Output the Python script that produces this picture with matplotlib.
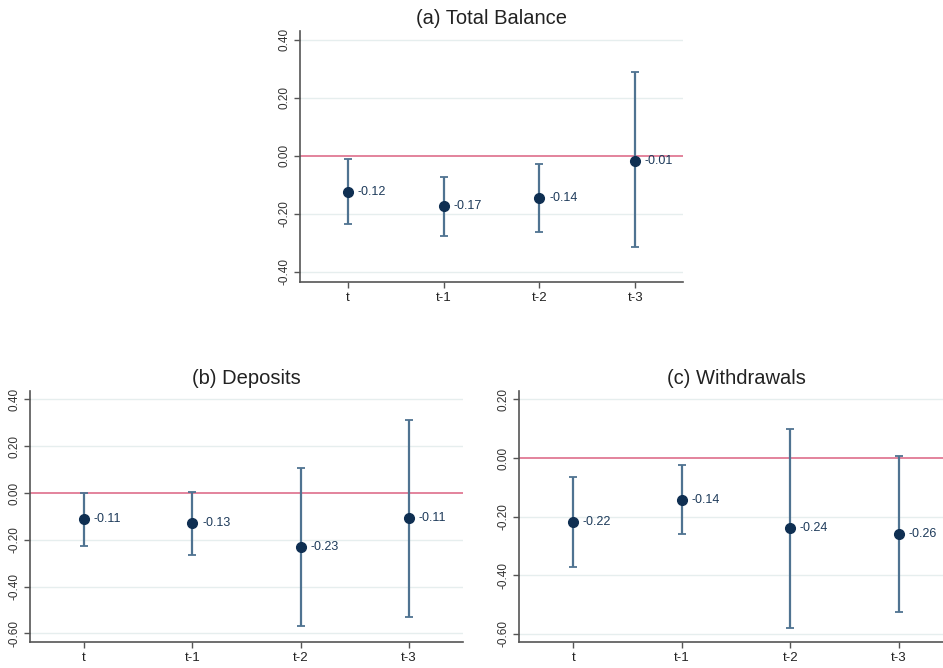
import matplotlib
matplotlib.use("Agg")
import matplotlib.pyplot as plt
import numpy as np

plt.rcParams['font.family'] = ['Liberation Sans', 'DejaVu Sans']

lags = ["t", "t-1", "t-2", "t-3"]

# (a) Total Balance
a_est = [-0.12, -0.17, -0.14, -0.01]
a_plot = [-0.124, -0.172, -0.145, -0.017]
a_lo = [-0.234, -0.275, -0.263, -0.315]
a_hi = [-0.010, -0.072, -0.027, 0.287]

# (b) Deposits
b_est = [-0.11, -0.13, -0.23, -0.11]
b_plot = [-0.111, -0.130, -0.232, -0.108]
b_lo = [-0.225, -0.266, -0.570, -0.530]
b_hi = [0.000, 0.005, 0.107, 0.310]

# (c) Withdrawals
c_est = [-0.22, -0.14, -0.24, -0.26]
c_plot = [-0.220, -0.143, -0.241, -0.260]
c_lo = [-0.373, -0.261, -0.580, -0.525]
c_hi = [-0.066, -0.024, 0.100, 0.006]

panels = [
    dict(title="(a) Total Balance", est=a_est, pt=a_plot, lo=a_lo, hi=a_hi,
         ticks=[0.40, 0.20, 0.00, -0.20, -0.40], ylim=(-0.435, 0.43),
         pos=[300/943, 1-282/668, 383/943, 251/668]),
    dict(title="(b) Deposits", est=b_est, pt=b_plot, lo=b_lo, hi=b_hi,
         ticks=[0.40, 0.20, 0.00, -0.20, -0.40, -0.60], ylim=(-0.637, 0.436),
         pos=[30/943, 1-642/668, 433/943, 251/668]),
    dict(title="(c) Withdrawals", est=c_est, pt=c_plot, lo=c_lo, hi=c_hi,
         ticks=[0.20, 0.00, -0.20, -0.40, -0.60], ylim=(-0.629, 0.229),
         pos=[519/943, 1-642/668, 434/943, 251/668]),
]

fig = plt.figure(figsize=(9.43, 6.68), dpi=100)
fig.patch.set_facecolor("white")

marker_col = "#0f2f52"
bar_col = "#4f7391"
line_col = "#e07a94"
grid_col = "#e6eeee"
spine_col = "#555555"

for p in panels:
    ax = fig.add_axes(p["pos"])
    x = np.arange(1, 5)
    pt = np.array(p["pt"])
    lo = np.array(p["lo"])
    hi = np.array(p["hi"])
    for t in p["ticks"]:
        if abs(t) > 1e-9:
            ax.axhline(t, color=grid_col, lw=1.0, zorder=0)
    ax.axhline(0, color=line_col, lw=1.3, zorder=1)
    ax.errorbar(x, pt, yerr=[pt - lo, hi - pt], fmt="none", ecolor=bar_col,
                elinewidth=1.6, capsize=2.6, capthick=1.3, zorder=2)
    ax.plot(x, pt, "o", color=marker_col, markersize=7, zorder=3)
    for xi, yi, lab in zip(x, pt, p["est"]):
        ax.annotate(f"{lab:.2f}", (xi, yi), xytext=(7, 0), textcoords="offset points",
                    va="center", ha="left", fontsize=9, color="#1d3a5a")
    ax.set_xlim(0.5, 4.5)
    ax.set_ylim(*p["ylim"])
    ax.set_xticks(x)
    ax.set_xticklabels(lags, fontsize=9.5, color="#222222")
    ax.set_yticks(p["ticks"])
    ax.set_yticklabels([f"{t:.2f}" for t in p["ticks"]], fontsize=8.5, color="#333333",
                       rotation=90, va="center")
    ax.tick_params(axis="both", length=4, color=spine_col, width=1.0, pad=3)
    for s in ["top", "right"]:
        ax.spines[s].set_visible(False)
    for s in ["left", "bottom"]:
        ax.spines[s].set_color(spine_col)
        ax.spines[s].set_linewidth(1.2)
    ax.set_title(p["title"], fontsize=14.5, color="#222222", pad=5)

fig.savefig("out.png", dpi=100)
